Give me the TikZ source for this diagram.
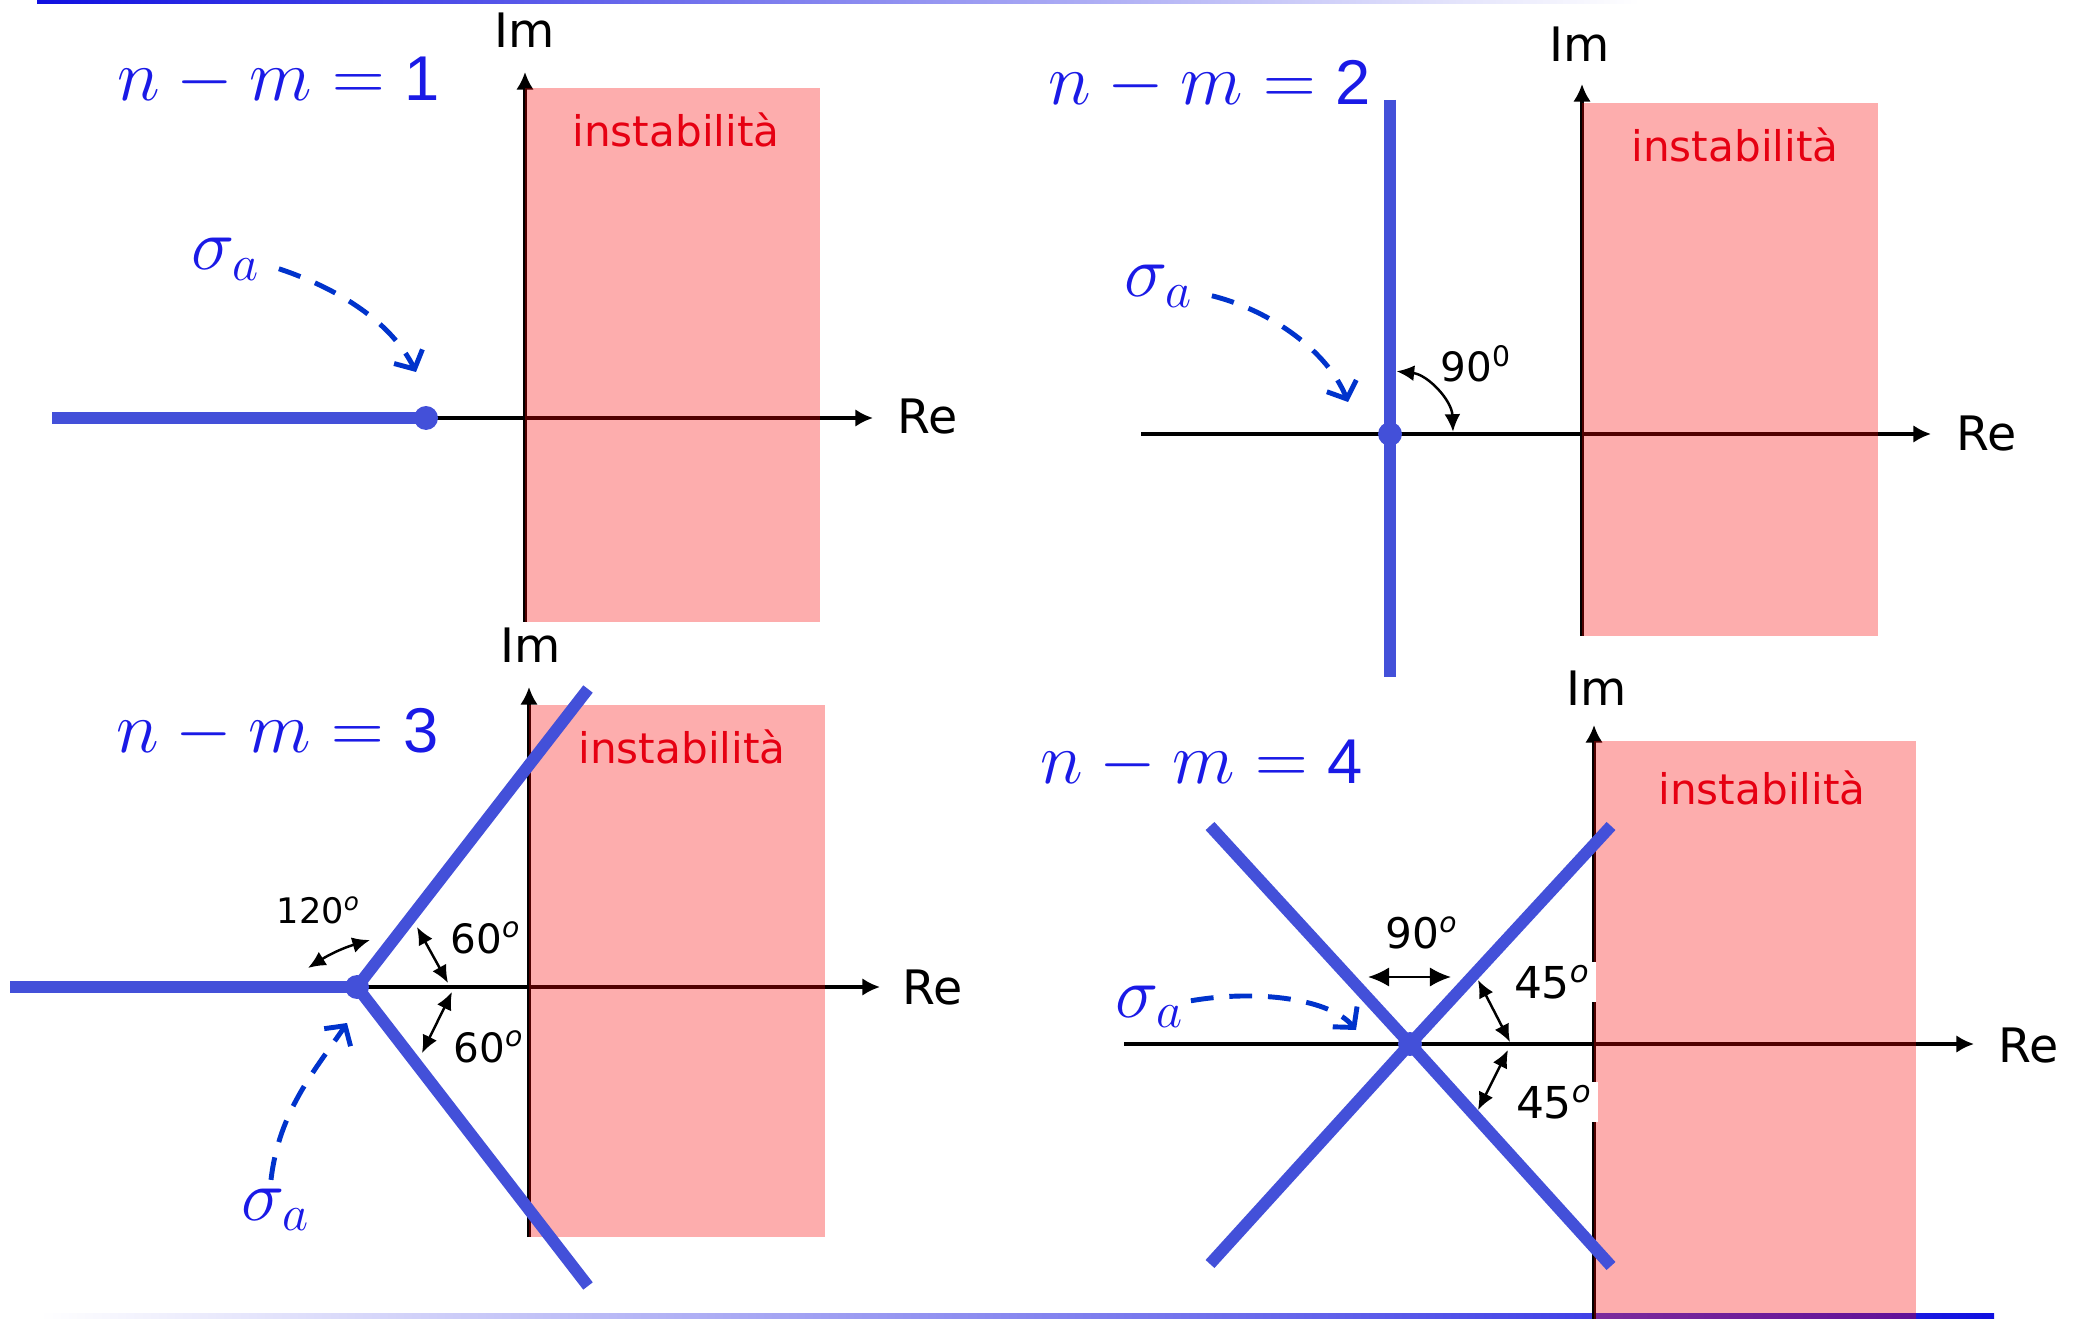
\documentclass[tikz,border=0pt]{standalone}
\usepackage{fontspec}
\usetikzlibrary{arrows.meta,calc}
\newfontfamily\lblfont{DejaVu Sans}
\newfontfamily\digfont{Liberation Sans}
\definecolor{locus}{HTML}{4350D9}
\definecolor{ttlblue}{HTML}{1A1AE6}
\definecolor{sgblue}{HTML}{0033CC}
\definecolor{unst}{HTML}{FA0000}
\definecolor{unsttxt}{HTML}{E60012}
\definecolor{edgeblue}{HTML}{1010E0}
\newcommand{\ttldig}[1]{\mbox{\digfont\fontsize{18}{20}\selectfont #1}}
\tikzset{
  ax/.style={-{Latex[length=5pt,width=5pt]},line width=0.9pt,black},
  loc/.style={line width=3.4pt,draw=locus},
  sdot/.style={fill=locus,circle,inner sep=0pt,minimum size=6.8pt},
  zone/.style={fill=unst,fill opacity=0.32,draw=none},
  ttl/.style={text=ttlblue,inner sep=0pt,anchor=base west,font=\fontsize{20}{24}\selectfont},
  sgl/.style={text=ttlblue,inner sep=0pt,anchor=base,font=\fontsize{20}{24}\selectfont},
  sga/.style={-{Straight Barb[length=4pt,width=9pt]},line width=1.4pt,draw=sgblue,dash pattern=on 6.5pt off 4.5pt},
  ang/.style={{Latex[length=5pt,width=4.5pt]}-{Latex[length=5pt,width=4.5pt]},line width=0.7pt},
  unlbl/.style={text=unsttxt,anchor=base,inner sep=0pt,font=\lblfont\fontsize{12}{14}\selectfont},
  axl/.style={inner sep=0pt,font=\lblfont\fontsize{13.5}{15}\selectfont},
  dg/.style={inner sep=0pt,anchor=base west,font=\lblfont\fontsize{#1}{#1}\selectfont},
}

\begin{document}
\begin{tikzpicture}[x=0.01cm,y=-0.01cm]
  \useasboundingbox (0,0) rectangle (2082,1319);
  % slide rules
  \shade[left color=edgeblue,right color=white] (37,0) rectangle (1640,4);
  \shade[left color=white,right color=edgeblue] (40,1313) rectangle (1994,1319);

  % --- n-m=1 ---
  \draw[ax] (525,622) -- (525,72);
  \draw[ax] (426,418) -- (873,418);
  \fill[zone] (525,88) rectangle (820,622);
  \coordinate (c1) at (426,418);
  \draw[loc] (52,418) -- (c1);
  \node[sdot] (d1) at (c1) {};
  \node[ttl] (t1) at (117,101) {$n-m=\ttldig{1}$};
  \node[axl] (im1) at (525,30) {Im};
  \node[axl] (re1) at (928,417) {Re};
  \node[unlbl] (u1) at (676,147) {instabilità};
  \node[sgl] (s1) at (226,270) {$\sigma_a$};
  \coordinate (a1) at (416,372);
  \draw[sga] ([shift={(18,9)}]s1.east) .. controls +(60,20) and +(-25,-50) .. (a1);

  % --- n-m=2 ---
  \draw[ax] (1582,636) -- (1582,84);
  \draw[ax] (1141,434) -- (1931,434);
  \fill[zone] (1582,103) rectangle (1878,636);
  \coordinate (c2) at (1390,434);
  \draw[loc] (1390,100) -- (1390,677);
  \node[sdot] (d2) at (c2) {};
  \draw[ang] ([shift={(84:0.63cm)}]c2) arc[start angle=84,end angle=2,radius=0.63cm];
  \node[dg=11.5] (g2) at (1440,382) {90\textsuperscript{0}};
  \node[ttl] (t2) at (1048,105) {$n-m=\ttldig{2}$};
  \node[axl] (im2) at (1580,44) {Im};
  \node[axl] (re2) at (1987,434) {Re};
  \node[unlbl] (u2) at (1735,162) {instabilità};
  \node[sgl] (s2) at (1159,297) {$\sigma_a$};
  \coordinate (a2) at (1348,402);
  \draw[sga] ([shift={(18,9)}]s2.east) .. controls +(60,15) and +(-20,-50) .. (a2);

  % --- n-m=3 ---
  \draw[ax] (529,1237) -- (529,687);
  \draw[ax] (357,987) -- (880,987);
  \fill[zone] (529,705) rectangle (825,1237);
  \coordinate (c3) at (357,987);
  \draw[loc] (588,689) -- (c3) -- (588,1286);
  \draw[loc] (10,987) -- (c3);
  \node[sdot] (d3) at (c3) {};
  \draw[ang] (308,968) to[bend left=8] (370,940);
  \draw[ang] (417,927) -- (448,983);
  \draw[ang] (452,992) -- (422,1053);
  \node[dg=10] (g3a) at (276,923) {120\textsuperscript{\itshape o}};
  \node[dg=11.5] (g3b) at (450,953) {60\textsuperscript{\itshape o}};
  \node[dg=11.5] (g3c) at (453,1062) {60\textsuperscript{\itshape o}};
  \node[ttl] (t3) at (116,752) {$n-m=\ttldig{3}$};
  \node[axl] (im3) at (531,645) {Im};
  \node[axl] (re3) at (933,988) {Re};
  \node[unlbl] (u3) at (682,763) {instabilità};
  \node[sgl] (s3) at (276,1220) {$\sigma_a$};
  \coordinate (a3) at (347,1023);
  \draw[sga] ([shift={(-5,-8)}]s3.north) .. controls +(8,-70) and +(-30,45) .. (a3);

  % --- n-m=4 ---
  \draw[ax] (1594,1319) -- (1594,725);
  \draw[ax] (1124,1044) -- (1974,1044);
  \fill[zone] (1594,741) rectangle (1916,1319);
  \coordinate (c4) at (1410,1044);
  \draw[loc] (1210,826) -- (c4) -- (1611,1266);
  \draw[loc] (1210,1264) -- (c4) -- (1611,826);
  \node[sdot] (d4) at (c4) {};
  \draw[ang,{Latex[length=6pt,width=5.5pt]}-{Latex[length=6pt,width=5.5pt]}] (1368,977) -- (1451,977);
  \draw[ang] (1478,980) -- (1510,1042);
  \draw[ang] (1508,1050) -- (1478,1110);
  \node[dg=12] (g4a) at (1385,948) {90\textsuperscript{\itshape o}};
  \node[dg=12.5,fill=white,inner xsep=1.5pt,inner ysep=1pt] (g4b) at (1508,998) {45\textsuperscript{\itshape o}};
  \node[dg=12.5,fill=white,inner xsep=1.5pt,inner ysep=1pt] (g4c) at (1510,1118) {45\textsuperscript{\itshape o}};
  \node[ttl] (t4) at (1040,783) {$n-m=\ttldig{4}$};
  \node[axl] (im4) at (1597,688) {Im};
  \node[axl] (re4) at (2029,1046) {Re};
  \node[unlbl] (u4) at (1762,804) {instabilità};
  \node[sgl] (s4) at (1150,1017) {$\sigma_a$};
  \coordinate (a4) at (1356,1030);
  \draw[sga] ([shift={(6,-6)}]s4.east) .. controls +(70,-12) and +(-25,-30) .. (a4);
\end{tikzpicture}
\end{document}
